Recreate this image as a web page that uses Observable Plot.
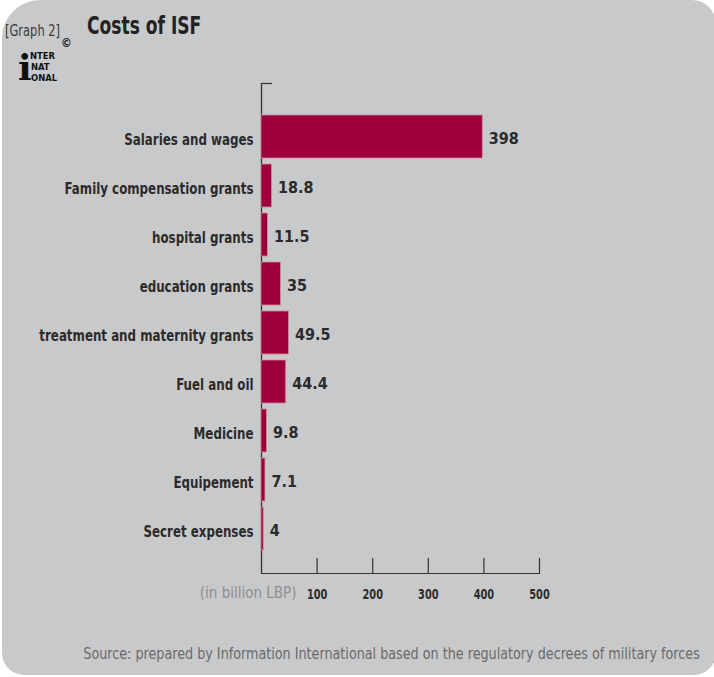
<!DOCTYPE html>
<html>
<head>
<meta charset="utf-8">
<script src="https://cdn.jsdelivr.net/npm/d3@7"></script>
<script src="https://cdn.jsdelivr.net/npm/@observablehq/plot@0.6"></script>
<style>
  html, body { margin: 0; padding: 0; background: #ffffff; }
  #wrap { position: relative; width: 714px; height: 677px; overflow: hidden; }
  #panel { position: absolute; left: 2px; top: 0; width: 714px; height: 675px; background: #c8c9cb;
           border-radius: 38px 24px 22px 22px; }
  .t { position: absolute; white-space: nowrap; font-family: 'DejaVu Sans Condensed', 'Liberation Sans', sans-serif; }
  .logo { font-size: 9.4px; line-height: 10px; font-weight: 900; color: #111; }
  #chart { position: absolute; left: 0; top: 0; }
</style>
</head>
<body>
<div id="wrap">
  <div id="panel"></div>
  <div class="t" style="left:5px; top:22px; font-size:15px; color:#3a3a3a; transform:scaleX(0.85); transform-origin:left center;">[Graph 2]</div>
  <div class="t" style="left:87px; top:11px; font-size:25px; font-weight:bold; color:#222; transform:scaleX(0.76); transform-origin:left center;">Costs of ISF</div>
  <div class="t" style="left:61px; top:37px; font-size:12px; line-height:12px; font-weight:bold; color:#222;">©</div>
  <div class="t" style="left:18px; top:50px; font-family:'DejaVu Serif', serif; font-size:36px; line-height:34px; font-weight:900; color:#111;">i</div>
  <div class="t logo" style="left:30px; top:51px;">NTER</div>
  <div class="t logo" style="left:31px; top:62px;">NAT</div>
  <div class="t logo" style="left:31px; top:73px;">ONAL</div>
  <div id="chart"></div>
  <div class="t" style="right:14px; top:645px; font-size:15.5px; color:#6a6a6a; transform:scaleX(0.915); transform-origin:right center;">Source: prepared by Information International based on the regulatory decrees of military forces</div>
</div>
<script>
const categories = [
  "Salaries and wages",
  "Family compensation grants",
  "hospital grants",
  "education grants",
  "treatment and maternity grants",
  "Fuel and oil",
  "Medicine",
  "Equipement",
  "Secret expenses"
];
const values = [398, 18.8, 11.5, 35, 49.5, 44.4, 9.8, 7.1, 4];
const valueLabels = ["398", "18.8", "11.5", "35", "49.5", "44.4", "9.8", "7.1", "4"];
const xTicks = [100, 200, 300, 400, 500];
const unitLabel = "(in billion LBP)";

const data = categories.map((name, i) => ({name, value: values[i], label: valueLabels[i]}));
const F = "'DejaVu Sans Condensed', 'Liberation Sans', sans-serif";
const W = 714, H = 620, mL = 261, mR = 175, mT = 83, mB = 47;

const chart = Plot.plot({
  width: W, height: H,
  marginLeft: mL, marginRight: mR, marginTop: mT, marginBottom: mB,
  style: {background: "transparent", fontFamily: F, fontSize: "15.5px", fontWeight: "bold", color: "#2b2b2b", overflow: "visible"},
  x: {domain: [0, 500]},
  y: {domain: categories, range: [108.4, 557.6], padding: 0.12},
  marks: [
    Plot.ruleX([0], {stroke: "#333", strokeWidth: 1.3}),
    Plot.barX(data, {x: "value", y: "name", fill: "#9e0039", stroke: "#cf8ca2", strokeWidth: 0.8}),
    Plot.ruleX(xTicks, {insetTop: H - mB - mT - 15, stroke: "#333", strokeWidth: 1.2}),
    Plot.frame({anchor: "bottom", stroke: "#333", strokeWidth: 1.2}),
    Plot.frame({anchor: "top", insetRight: (W - mL - mR) - 10, stroke: "#333", strokeWidth: 1.2}),
    Plot.axisY({tickSize: 0, tickPadding: 8, label: null, dy: 3}),
    Plot.axisX({ticks: xTicks, tickSize: 0, tickPadding: 16, label: null, tickFormat: d => String(d), fontSize: 14}),
    Plot.text(data, {x: "value", y: "name", text: "label", dx: 6, dy: 2, textAnchor: "start", fontSize: 16, ariaLabel: "values"}),
    Plot.text([unitLabel], {text: d => d, frameAnchor: "bottom-left", dx: 35, dy: 24, textAnchor: "end", fill: "#8f8f8f", fontWeight: "normal", fontSize: 15, ariaLabel: "unit"})
  ]
});
document.getElementById("chart").appendChild(chart);

// condensed typeface look: narrow each text horizontally about its anchor
function condense(selector, s) {
  chart.querySelectorAll(selector).forEach(el => {
    const bb = el.getBBox();
    const anchor = getComputedStyle(el).textAnchor;
    const ax = anchor === "end" ? bb.x + bb.width : anchor === "middle" ? bb.x + bb.width / 2 : bb.x;
    const t = el.getAttribute("transform") || "";
    el.setAttribute("transform", `${t} translate(${ax},0) scale(${s},1) translate(${-ax},0)`);
  });
}
condense('g[aria-label="y-axis tick label"] text', 0.85);
condense('g[aria-label="x-axis tick label"] text', 0.78);
condense('g[aria-label="values"] text', 0.76);
</script>
</body>
</html>
